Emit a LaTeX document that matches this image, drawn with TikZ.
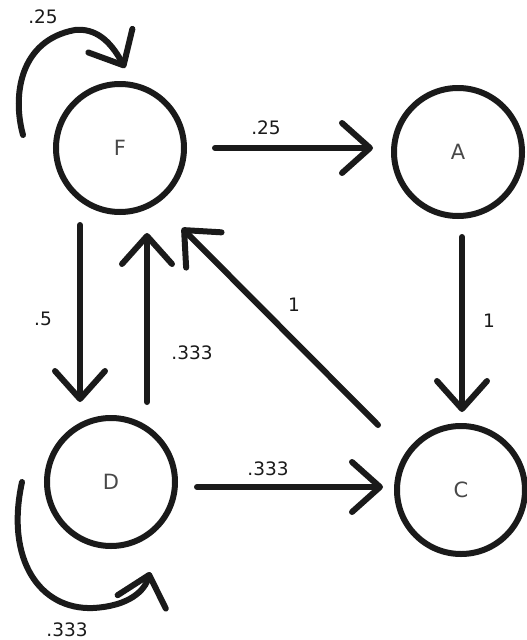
\documentclass[tikz,border=0pt]{standalone}
\usepackage{fontspec}
\setmainfont{DejaVu Sans}
\usetikzlibrary{arrows.meta,calc}
\definecolor{ink}{HTML}{1A1A1A}
\tikzset{
  state/.style={circle,draw=ink,line width=6pt,minimum size=128pt,inner sep=0pt,
    text=ink!80,font=\fontsize{21}{21}\selectfont},
  edge/.style={draw=ink,line width=6pt,line cap=round,
    -{Straight Barb[length=28pt,width=50pt,round]}},
  lbl/.style={text=ink,font=\fontsize{18.5}{18.5}\selectfont,inner sep=0pt}
}
\begin{document}
\begin{tikzpicture}[x=1pt,y=-1pt]
\useasboundingbox (0,0) rectangle (527,640);
\node[state] (F) at (120,148) {F};
\node[state] (A) at (458,152) {A};
\node[state] (D) at (111,482) {D};
\node[state] (C) at (461,490) {C};
% straight edges
\draw[edge] ($(F)+(95,0)$) -- ($(A)+(-85,-4)$);
\draw[edge] ($(A)+(4,85)$) -- ($(C)+(1,-78)$);
\draw[edge] ($(F)+(-40,77)$) -- ($(D)+(-31,-80)$);
\draw[edge] ($(D)+(36,-80)$) -- ($(F)+(27,85)$);
\draw[edge] ($(C)+(-83,-65)$) -- ($(F)+(62,80)$);
\draw[edge] ($(D)+(86,5)$) -- ($(C)+(-78,-3)$);
% self loops
\coordinate (fs) at ($(F)+(-97,-13)$);
\coordinate (fe) at ($(F)+(5,-80)$);
\draw[edge] (fs) .. controls ($(F)+(-108,-53)$) and ($(F)+(-100,-108)$) .. ($(F)+(-45,-118)$)
  .. controls ($(F)+(-25,-120)$) and ($(F)+(-10,-108)$) .. (fe);
\coordinate (ds) at ($(D)+(-89,0)$);
\coordinate (de) at ($(D)+(39,90)$);
\draw[edge] (ds) .. controls ($(D)+(-106,78)$) and ($(D)+(-71,128)$) .. ($(D)+(-18,126)$)
  .. controls ($(D)+(19,124)$) and ($(D)+(34,108)$) .. (de);
% labels
\node[lbl] (l1) at (43,17) {.25};
\node[lbl] (l2) at (266,128) {.25};
\node[lbl] (l3) at (43,319) {.5};
\node[lbl] (l4) at (192,353) {.333};
\node[lbl] (l5) at (294,305) {1};
\node[lbl] (l6) at (489,321) {1};
\node[lbl] (l7) at (268,469) {.333};
\node[lbl] (l8) at (67,630) {.333};
\end{tikzpicture}
\end{document}
